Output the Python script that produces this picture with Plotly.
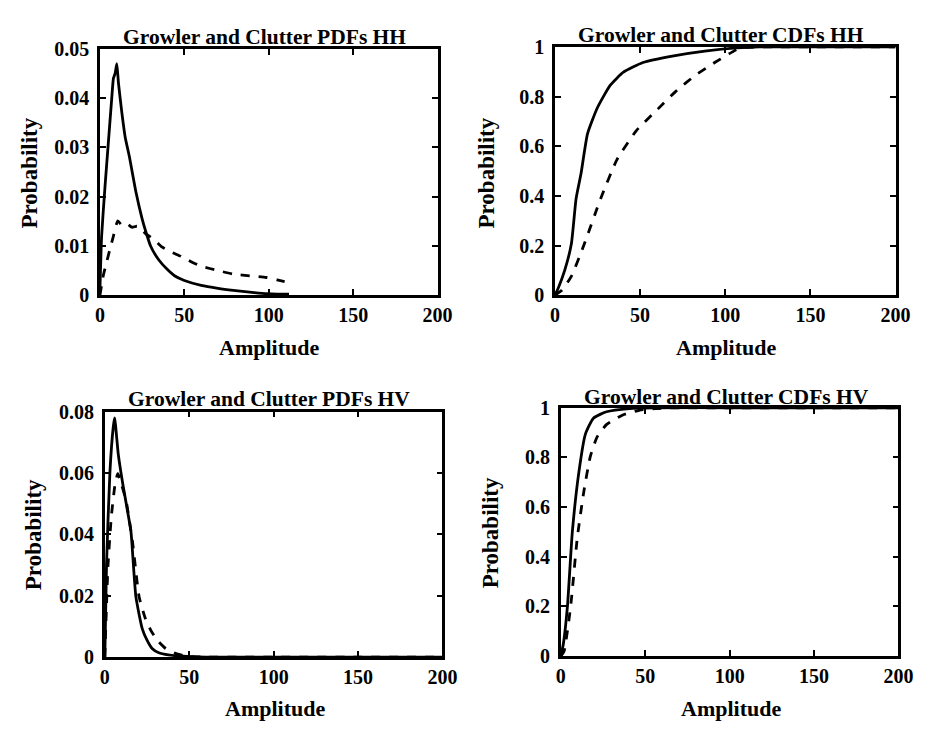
import plotly.graph_objects as go

# ---- Data ----
hh_pdf_growler_x = [0, 1, 3, 5, 7, 8, 9, 10, 11, 13, 15, 17.4, 21.3, 25, 27, 30, 34.8, 40, 44.4, 50, 60, 70, 79, 90, 98.5, 105, 112]
hh_pdf_growler_y = [0.001, 0.012, 0.022, 0.031, 0.040, 0.044, 0.045, 0.047, 0.043, 0.037, 0.032, 0.0282, 0.021, 0.0155, 0.0131, 0.0100, 0.0072, 0.0052, 0.0039, 0.0030, 0.0020, 0.0014, 0.0010, 0.0006, 0.0003, 0.0002, 0.0002]

hh_pdf_clutter_x = [0, 2, 3.9, 5.8, 8, 10.6, 13, 16, 19, 22, 25, 27, 30, 33, 36.7, 42, 48, 54, 60, 70, 79, 90, 98.5, 105, 112]
hh_pdf_clutter_y = [0.0, 0.004, 0.0066, 0.0092, 0.012, 0.0151, 0.0142, 0.0145, 0.0138, 0.0140, 0.0132, 0.0125, 0.0118, 0.0110, 0.0098, 0.0088, 0.0079, 0.0068, 0.0059, 0.0050, 0.0043, 0.0039, 0.0036, 0.0031, 0.0026]

hh_cdf_growler_x = [0, 2, 5.7, 9.6, 12.4, 15.3, 19.1, 24.9, 32.5, 40.2, 51.7, 68.9, 88, 107, 120, 150, 200]
hh_cdf_growler_y = [0.0, 0.03, 0.10, 0.206, 0.389, 0.49, 0.65, 0.755, 0.846, 0.898, 0.937, 0.963, 0.983, 0.996, 1.0, 1.0, 1.0]

hh_cdf_clutter_x = [0, 4, 9.6, 17.2, 26.8, 36.4, 47.8, 59.3, 70.8, 82.3, 93.8, 105, 109, 120, 150, 200]
hh_cdf_clutter_y = [0.0, 0.02, 0.076, 0.206, 0.389, 0.546, 0.663, 0.742, 0.82, 0.885, 0.937, 0.983, 0.996, 1.0, 1.0, 1.0]

hv_pdf_growler_x = [0, 1, 3, 5, 5.8, 8, 10.6, 13, 15.5, 18.4, 22.2, 25, 28, 32, 37.7, 43, 49, 60, 80, 100, 150, 200]
hv_pdf_growler_y = [0.0, 0.030, 0.060, 0.075, 0.078, 0.066, 0.0566, 0.049, 0.0408, 0.0197, 0.0092, 0.0055, 0.0028, 0.0014, 0.0007, 0.0004, 0.0002, 0.0, 0.0, 0.0, 0.0, 0.0]

hv_pdf_clutter_x = [0, 1.9, 3.9, 6, 7.7, 10, 12.6, 16.4, 20.3, 24.2, 28, 31.9, 36, 41.5, 49, 60, 80, 100, 150, 200]
hv_pdf_clutter_y = [0.0, 0.030, 0.046, 0.056, 0.0598, 0.056, 0.051, 0.0376, 0.0197, 0.0123, 0.0080, 0.0050, 0.0028, 0.0013, 0.0002, 0.0, 0.0, 0.0, 0.0, 0.0]

hv_cdf_growler_x = [0, 1.5, 3.9, 6.8, 10.6, 14.5, 19.3, 27, 40.6, 55, 100, 150, 200]
hv_cdf_growler_y = [0.0, 0.05, 0.2, 0.5, 0.737, 0.893, 0.958, 0.984, 0.997, 1.0, 1.0, 1.0, 1.0]

hv_cdf_clutter_x = [0, 1.9, 5.8, 9.7, 13.5, 17.4, 21.3, 27, 36.7, 46.4, 56, 70, 100, 150, 200]
hv_cdf_clutter_y = [0.0, 0.02, 0.2, 0.474, 0.658, 0.802, 0.88, 0.932, 0.971, 0.99, 0.997, 1.0, 1.0, 1.0, 1.0]

titles = ["Growler and Clutter PDFs HH", "Growler and Clutter CDFs HH",
          "Growler and Clutter PDFs HV", "Growler and Clutter CDFs HV"]
x_label = "Amplitude"
y_label = "Probability"
x_ticks = [0, 50, 100, 150, 200]
y_ticks_hh_pdf = [0, 0.01, 0.02, 0.03, 0.04, 0.05]
y_ticks_hv_pdf = [0, 0.02, 0.04, 0.06, 0.08]
y_ticks_cdf = [0, 0.2, 0.4, 0.6, 0.8, 1]

# ---- Layout geometry ----
W, H = 935, 736
boxes = [  # left, right, top, bottom in px
    (97, 442, 39, 293),
    (562, 910, 37, 293),
    (102, 447, 413, 666),
    (568, 913, 409, 665),
]
title_pos = [(265, 27), (732, 25), (270, 400), (737, 398)]
ylab_pos = [(25, 167), (492, 167), (30, 540), (497, 538)]
xlab_pos = [(270, 347), (737, 347), (276, 719), (742, 719)]
FONT = "Liberation Serif"

fig = go.Figure()
series = [
    (hh_pdf_growler_x, hh_pdf_growler_y, hh_pdf_clutter_x, hh_pdf_clutter_y),
    (hh_cdf_growler_x, hh_cdf_growler_y, hh_cdf_clutter_x, hh_cdf_clutter_y),
    (hv_pdf_growler_x, hv_pdf_growler_y, hv_pdf_clutter_x, hv_pdf_clutter_y),
    (hv_cdf_growler_x, hv_cdf_growler_y, hv_cdf_clutter_x, hv_cdf_clutter_y),
]
yticks = [y_ticks_hh_pdf, y_ticks_cdf, y_ticks_hv_pdf, y_ticks_cdf]
yranges = [[0, 0.05], [0, 1], [0, 0.08], [0, 1]]

layout = dict(
    width=W, height=H, margin=dict(l=0, r=0, t=0, b=0),
    paper_bgcolor="white", plot_bgcolor="white", showlegend=False,
    font=dict(family=FONT, color="black", size=17),
)
annotations = []
for i, (gx, gy, cx, cy) in enumerate(series):
    n = "" if i == 0 else str(i + 1)
    fig.add_trace(go.Scatter(x=cx, y=cy, mode="lines", xaxis="x" + n, yaxis="y" + n,
                             line=dict(color="black", width=2.8, dash="dash", shape="spline", smoothing=0.5)))
    fig.add_trace(go.Scatter(x=gx, y=gy, mode="lines", xaxis="x" + n, yaxis="y" + n,
                             line=dict(color="black", width=2.8, shape="spline", smoothing=0.5)))
    l, r, t, b = boxes[i]
    xd = [l / W, r / W]
    yd = [1 - b / H, 1 - t / H]
    axstyle = dict(showline=True, linecolor="black", linewidth=2.5, mirror="ticks",
                   ticks="inside", ticklen=6, tickwidth=2, tickcolor="black",
                   showgrid=False, zeroline=False,
                   tickfont=dict(family=FONT, size=20, color="black", weight="bold"))
    layout["xaxis" + n] = dict(domain=xd, range=[0, 200], tickvals=x_ticks,
                               ticktext=[str(v) for v in x_ticks],
                               anchor="y" + n, **axstyle)
    layout["yaxis" + n] = dict(domain=yd, range=yranges[i], tickvals=yticks[i],
                               ticktext=[("%g" % v) for v in yticks[i]],
                               anchor="x" + n, ticklabelstandoff=4, **axstyle)
    tx, ty = title_pos[i]
    annotations.append(dict(text=titles[i], x=tx / W, y=1 - ty / H, xref="paper", yref="paper",
                            xanchor="center", yanchor="middle", showarrow=False,
                            font=dict(family=FONT, size=21.5, color="black", weight="bold")))
    lx, ly = ylab_pos[i]
    annotations.append(dict(text=y_label, x=lx / W, y=1 - ly / H, xref="paper", yref="paper",
                            xanchor="center", yanchor="middle", showarrow=False, textangle=-90,
                            font=dict(family=FONT, size=23, color="black", weight="bold")))
    ax_, ay_ = xlab_pos[i]
    annotations.append(dict(text=x_label, x=ax_ / W, y=1 - ay_ / H, xref="paper", yref="paper",
                            xanchor="center", yanchor="middle", showarrow=False,
                            font=dict(family=FONT, size=22, color="black", weight="bold")))
layout["annotations"] = annotations
fig.update_layout(**layout)
fig.write_html("out.html")
